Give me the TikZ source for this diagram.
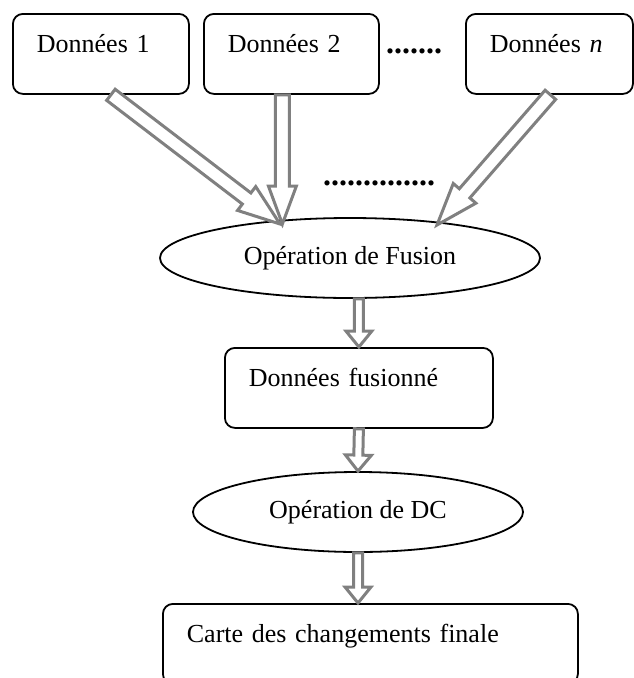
\documentclass[tikz,border=0pt]{standalone}
\usepackage{fontspec}
\setmainfont{Liberation Serif}
\usetikzlibrary{calc,shapes.geometric}

\definecolor{arrowgray}{RGB}{128,128,128}

% hollow block arrow: start, tip, shaft half-width, head half-width, head length
\newcommand{\hollowarrow}[5]{%
  \coordinate (ha-neck) at ($(#2)!#5!(#1)$);
  \draw[flowarrow]
    ($(#1)!#3!90:(#2)$) --
    ($(ha-neck)!#3!90:(#2)$) --
    ($(ha-neck)!#4!90:(#2)$) --
    (#2) --
    ($(ha-neck)!#4!-90:(#2)$) --
    ($(ha-neck)!#3!-90:(#2)$) --
    ($(#1)!#3!-90:(#2)$) -- cycle;
}

\tikzset{
  databox/.style={draw, line width=1.8pt, rounded corners=10pt,
    inner xsep=24pt, inner ysep=0pt, text height=39pt, text depth=41pt,
    align=left, anchor=north west, font=\fontsize{26}{30}\selectfont},
  opnode/.style={draw, ellipse, line width=1.8pt, inner sep=0pt,
    font=\fontsize{26}{30}\selectfont},
  dotrow/.style={anchor=base west, inner sep=0pt,
    font=\fontsize{32}{32}\selectfont\bfseries},
  flowarrow/.style={draw=arrowgray, fill=white, line width=3pt, line join=miter},
}

\begin{document}
\begin{tikzpicture}[x=1pt, y=-1pt]
  \useasboundingbox (0,0) rectangle (633,678);

  % input data boxes
  \node[databox, text width=128pt] (d1) at (12,13) {Données 1};
  \node[databox, text width=127pt] (d2) at (203,13) {Données 2};
  \node[databox, text width=119pt] (dn) at (465,13) {Données \textit{n}};
  \node[dotrow] (dots1) at (386,53) {.......};

  % fusion step
  \node[opnode, minimum width=380pt, minimum height=80pt] (fus) at (350,258) {Opération de Fusion};
  \node[dotrow] (dots2) at (323,185) {..............};

  % fused data, change detection, final map
  \node[databox, text width=220pt] (fz) at (224,347) {Données fusionné};
  \node[opnode, minimum width=330pt, minimum height=80pt] (dc) at (358,512) {Opération de DC};
  \node[databox, text width=367pt] (fin) at (162,603) {Carte des changements finale};

  % arrow end points
  \coordinate (s1) at ($(d1.south)+(10,0)$);
  \coordinate (s2) at ($(d2.south)+(-9,0)$);
  \coordinate (sn) at ($(dn.south)+(1,0)$);
  \coordinate (t1) at ($(fus.center)+(-70,-34)$);
  \coordinate (t2) at (s2 |- t1);
  \coordinate (tn) at ($(fus.center)+(87,-33)$);
  \coordinate (a1) at (fz.north |- fus.south);
  \coordinate (a3) at (dc.south |- fin.north);

  % big arrows into the fusion step
  \hollowarrow{s1}{t1}{7pt}{15pt}{42pt}
  \hollowarrow{s2}{t2}{7pt}{14pt}{38pt}
  \hollowarrow{sn}{tn}{7pt}{15pt}{42pt}

  % small arrows down the chain
  \hollowarrow{a1}{fz.north}{4.5pt}{13pt}{16pt}
  \hollowarrow{fz.south}{dc.north}{4.5pt}{13pt}{16pt}
  \hollowarrow{dc.south}{a3}{4.5pt}{13pt}{16pt}
\end{tikzpicture}
\end{document}
